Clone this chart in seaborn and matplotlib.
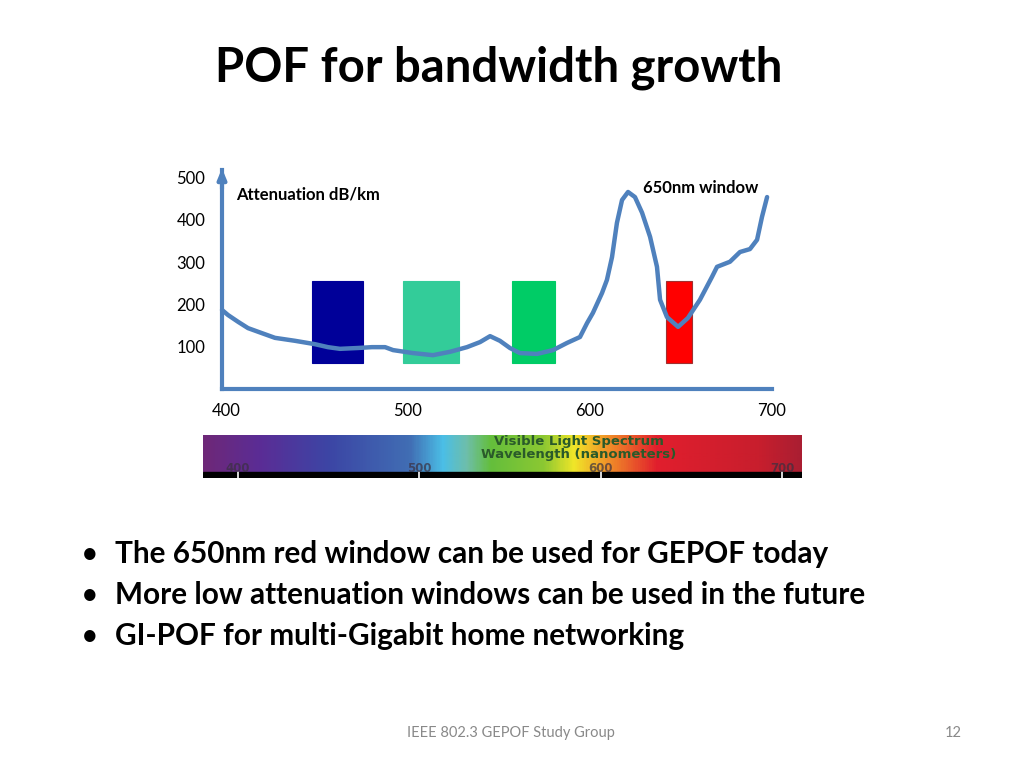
import numpy as np
import pandas as pd
import matplotlib.pyplot as plt
import seaborn as sns
from matplotlib.colors import LinearSegmentedColormap

# attenuation curve (wavelength nm, dB/km)
wavelength = [397.8, 401.1, 406.6, 412.1, 419.8, 426.9, 437.9, 448.9, 456.0, 462.6,
              472.5, 480.2, 487.4, 491.8, 502.7, 513.7, 523.1, 532.4, 539.6, 545.1,
              550.5, 556.0, 561.5, 570.9, 579.7, 587.4, 594.5, 598.4, 601.6, 606.6,
              609.3, 612.1, 614.8, 617.6, 620.9, 624.7, 628.6, 633.0, 636.8, 638.5,
              642.3, 648.4, 653.8, 660.4, 667.0, 669.8, 676.9, 682.4, 687.9, 691.8,
              694.5, 697.3]
attenuation = [187, 175, 159, 144, 132, 121, 114, 106, 99, 95,
               97, 99, 99, 92, 85, 80, 88, 99, 111, 125,
               114, 97, 85, 83, 92, 109, 123, 156, 180, 227,
               258, 312, 393, 447, 466, 454, 417, 360, 289, 211,
               170, 147, 168, 211, 265, 289, 301, 324, 331, 353,
               407, 454]

# low attenuation windows
win_left = [447, 497, 557, 642]
win_right = [475, 528, 581, 656]
win_bottom = 61
win_top = 256
win_colors = ["#000099", "#33CC99", "#00CC66", "#FF0000"]

y_ticks = [100, 200, 300, 400, 500]
x_ticks = [400, 500, 600, 700]

bullets = ["The 650nm red window can be used for GEPOF today",
           "More low attenuation windows can be used in the future",
           "GI-POF for multi-Gigabit home networking"]

# spectrum strip colour stops
spec_pos = [0, 0.095, 0.21, 0.345, 0.40, 0.44, 0.48, 0.57, 0.62, 0.68, 0.76, 0.93, 1.0]
spec_rgb = [(110, 40, 120), (90, 45, 150), (60, 70, 165), (65, 110, 180), (75, 190, 230),
            (110, 190, 170), (100, 190, 60), (140, 200, 50), (240, 230, 40), (240, 140, 40),
            (225, 30, 45), (200, 30, 45), (170, 30, 50)]

sns.set_style("white")
plt.rcParams['font.family'] = ['Lato', 'DejaVu Sans']
plt.rcParams['text.color'] = 'black'
plt.rcParams['xtick.color'] = 'black'
plt.rcParams['ytick.color'] = 'black'

W, H = 1024, 768
fig = plt.figure(figsize=(10.24, 7.68), dpi=100)


def fx(px):
    return px / W


def fy(py):
    return 1 - py / H


line_col = "#4F81BD"

# main chart
ax = fig.add_axes([fx(222), fy(389), fx(772 - 222), (389 - 170) / H])
ax.set_xlim(397.8, 700)
ax.set_ylim(0, 518)
for l, r, c in zip(win_left, win_right, win_colors):
    ax.bar(l, win_top - win_bottom, width=r - l, bottom=win_bottom, align="edge",
           color=c, edgecolor="#A03030" if c == "#FF0000" else c, linewidth=0.8, zorder=1)
df = pd.DataFrame({"nm": wavelength, "att": attenuation})
sns.lineplot(data=df, x="nm", y="att", ax=ax, color=line_col, linewidth=3.2,
             zorder=3, clip_on=False, sort=False)
ax.lines[-1].set_solid_joinstyle("round")
ax.lines[-1].set_solid_capstyle("round")
for s in ["top", "right"]:
    ax.spines[s].set_visible(False)
for s in ["left", "bottom"]:
    ax.spines[s].set_color(line_col)
    ax.spines[s].set_linewidth(3)
ax.annotate("", xy=(0, 1.02), xytext=(0, 0.9), xycoords="axes fraction",
            arrowprops=dict(arrowstyle="-|>,head_width=0.25,head_length=0.6",
                            color=line_col, lw=3))
ax.set_yticks(y_ticks)
ax.set_yticklabels([str(v) for v in y_ticks], fontsize=12)
ax.set_xticks(x_ticks)
ax.set_xticklabels([str(v) for v in x_ticks], fontsize=12)
ax.tick_params(axis="y", length=0, pad=12)
ax.tick_params(axis="x", length=0, pad=10)
ax.set_xlabel("")
ax.set_ylabel("")
ax.grid(False)
ax.patch.set_alpha(0)
ax.text(405.5, 459, "Attenuation dB/km", fontsize=12, fontweight="bold", va="center")
ax.text(629, 476, "650nm window", fontsize=12, fontweight="bold", va="center")

# spectrum strip
sax = fig.add_axes([fx(203), fy(478), fx(802 - 203), (478 - 435) / H])
cmap = LinearSegmentedColormap.from_list(
    "spec", list(zip(spec_pos, [tuple(v / 255 for v in c) for c in spec_rgb])))
grad = np.linspace(0, 1, 600).reshape(1, -1)
sx0, sx1 = 380.7, 711
sax.imshow(grad, aspect="auto", cmap=cmap, extent=[sx0, sx1, 0.14, 1])
sax.axhspan(0, 0.14, color="black")
sax.set_xlim(sx0, sx1)
sax.set_ylim(0, 1)
sax.axis("off")
for v in x_ticks:
    sax.plot([v, v], [-0.05, 0.14], color="white", lw=1.2, clip_on=False)
    sax.text(v, 0.22, str(v), ha="center", va="center", fontsize=8.5,
             color="#3A3040", alpha=0.7, family="DejaVu Sans", fontweight="bold")
sax.text(588, 0.86, "Visible Light Spectrum", ha="center", va="center", fontsize=9.5,
         color="#2A5A2A", family="DejaVu Sans", fontweight="bold")
sax.text(588, 0.555, "Wavelength (nanometers)", ha="center", va="center", fontsize=9.5,
         color="#2A5A2A", family="DejaVu Sans", fontweight="bold")

# slide texts
fig.text(fx(499), fy(68), "POF for bandwidth growth", ha="center", va="center",
         fontsize=34, fontweight="bold")
for i, b in enumerate(bullets):
    y = fy(554 + 41 * i)
    fig.text(fx(90), y, "\u2022", ha="center", va="center", fontsize=22)
    fig.text(fx(115), y, b, ha="left", va="center", fontsize=21.4, fontweight="bold")
fig.text(fx(511), fy(733), "IEEE 802.3 GEPOF Study Group", ha="center", va="center",
         fontsize=10.5, color="#898989")
fig.text(fx(953), fy(733), "12", ha="center", va="center", fontsize=10.5, color="#898989")

fig.savefig("out.png", dpi=100)
